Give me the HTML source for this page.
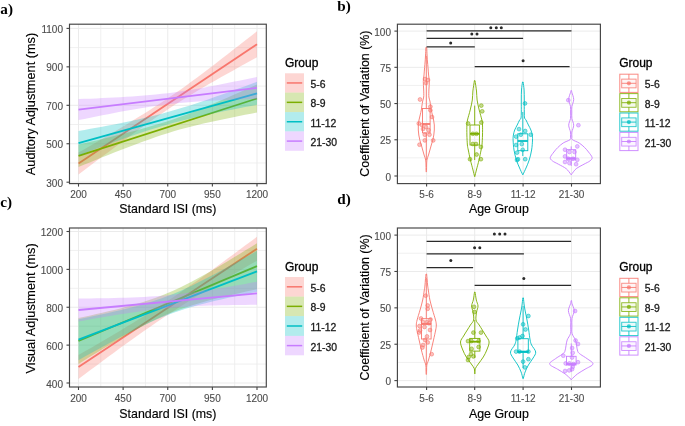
<!DOCTYPE html>
<html><head><meta charset="utf-8"><style>
html,body{margin:0;padding:0;background:#fff;width:685px;height:426px;overflow:hidden}
svg{display:block;font-family:"Liberation Sans",sans-serif;filter:blur(0.45px)}
</style></head><body>
<svg width="685" height="426" viewBox="0 0 685 426">
<rect width="685" height="426" fill="#fff"/>
<text x="0.3" y="13.6" font-size="15.2" font-weight="bold" font-family="Liberation Serif,serif">a)</text>
<text x="337.3" y="11.0" font-size="15.2" font-weight="bold" font-family="Liberation Serif,serif">b)</text>
<text x="0.3" y="206.6" font-size="15.2" font-weight="bold" font-family="Liberation Serif,serif">c)</text>
<text x="337.3" y="204.0" font-size="15.2" font-weight="bold" font-family="Liberation Serif,serif">d)</text>
<rect x="69.5" y="24.2" width="196.8" height="159.4" fill="#fff"/>
<line x1="100.81" y1="24.2" x2="100.81" y2="183.6" stroke="#EEEEEE" stroke-width="0.9"/>
<line x1="145.44" y1="24.2" x2="145.44" y2="183.6" stroke="#EEEEEE" stroke-width="0.9"/>
<line x1="190.06" y1="24.2" x2="190.06" y2="183.6" stroke="#EEEEEE" stroke-width="0.9"/>
<line x1="234.69" y1="24.2" x2="234.69" y2="183.6" stroke="#EEEEEE" stroke-width="0.9"/>
<line x1="69.5" y1="162.98" x2="266.3" y2="162.98" stroke="#EEEEEE" stroke-width="0.9"/>
<line x1="69.5" y1="124.53" x2="266.3" y2="124.53" stroke="#EEEEEE" stroke-width="0.9"/>
<line x1="69.5" y1="86.08" x2="266.3" y2="86.08" stroke="#EEEEEE" stroke-width="0.9"/>
<line x1="69.5" y1="47.62" x2="266.3" y2="47.62" stroke="#EEEEEE" stroke-width="0.9"/>
<line x1="78.50" y1="24.2" x2="78.50" y2="183.6" stroke="#EBEBEB" stroke-width="1"/>
<line x1="123.12" y1="24.2" x2="123.12" y2="183.6" stroke="#EBEBEB" stroke-width="1"/>
<line x1="167.75" y1="24.2" x2="167.75" y2="183.6" stroke="#EBEBEB" stroke-width="1"/>
<line x1="212.38" y1="24.2" x2="212.38" y2="183.6" stroke="#EBEBEB" stroke-width="1"/>
<line x1="257.00" y1="24.2" x2="257.00" y2="183.6" stroke="#EBEBEB" stroke-width="1"/>
<line x1="69.5" y1="182.20" x2="266.3" y2="182.20" stroke="#EBEBEB" stroke-width="1"/>
<line x1="69.5" y1="143.75" x2="266.3" y2="143.75" stroke="#EBEBEB" stroke-width="1"/>
<line x1="69.5" y1="105.30" x2="266.3" y2="105.30" stroke="#EBEBEB" stroke-width="1"/>
<line x1="69.5" y1="66.85" x2="266.3" y2="66.85" stroke="#EBEBEB" stroke-width="1"/>
<line x1="69.5" y1="28.40" x2="266.3" y2="28.40" stroke="#EBEBEB" stroke-width="1"/>
<path d="M78.50,152.60 L84.45,149.16 L90.40,145.71 L96.35,142.24 L102.30,138.76 L108.25,135.26 L114.20,131.74 L120.15,128.20 L126.10,124.63 L132.05,121.02 L138.00,117.37 L143.95,113.68 L149.90,109.93 L155.85,106.12 L161.80,102.24 L167.75,98.30 L173.70,94.27 L179.65,90.13 L185.60,85.89 L191.55,81.57 L197.50,77.17 L203.45,72.71 L209.40,68.21 L215.35,63.66 L221.30,59.08 L227.25,54.48 L233.20,49.85 L239.15,45.21 L245.10,40.55 L251.05,35.88 L257.00,31.20 L257.00,57.20 L251.05,60.48 L245.10,63.77 L239.15,67.07 L233.20,70.39 L227.25,73.72 L221.30,77.08 L215.35,80.46 L209.40,83.87 L203.45,87.33 L197.50,90.83 L191.55,94.39 L185.60,98.03 L179.65,101.75 L173.70,105.57 L167.75,109.50 L161.80,113.52 L155.85,117.60 L149.90,121.75 L143.95,125.96 L138.00,130.23 L132.05,134.54 L126.10,138.89 L120.15,143.28 L114.20,147.70 L108.25,152.14 L102.30,156.60 L96.35,161.08 L90.40,165.57 L84.45,170.08 L78.50,174.60Z" fill="#F8766D" fill-opacity="0.3"/>
<line x1="78.5" y1="163.6" x2="257.0" y2="44.2" stroke="#F8766D" stroke-width="1.8"/>
<path d="M78.50,144.60 L84.45,143.22 L90.40,141.82 L96.35,140.41 L102.30,138.99 L108.25,137.55 L114.20,136.08 L120.15,134.59 L126.10,133.07 L132.05,131.52 L138.00,129.92 L143.95,128.28 L149.90,126.59 L155.85,124.84 L161.80,123.03 L167.75,121.15 L173.70,119.18 L179.65,117.10 L185.60,114.91 L191.55,112.63 L197.50,110.27 L203.45,107.84 L209.40,105.36 L215.35,102.84 L221.30,100.29 L227.25,97.70 L233.20,95.09 L239.15,92.47 L245.10,89.82 L251.05,87.17 L257.00,84.50 L257.00,112.50 L251.05,113.65 L245.10,114.82 L239.15,115.99 L233.20,117.19 L227.25,118.40 L221.30,119.63 L215.35,120.90 L209.40,122.20 L203.45,123.54 L197.50,124.93 L191.55,126.39 L185.60,127.93 L179.65,129.56 L173.70,131.30 L167.75,133.15 L161.80,135.09 L155.85,137.10 L149.90,139.17 L143.95,141.30 L138.00,143.48 L132.05,145.70 L126.10,147.97 L120.15,150.27 L114.20,152.60 L108.25,154.95 L102.30,157.33 L96.35,159.73 L90.40,162.14 L84.45,164.56 L78.50,167.00Z" fill="#7CAE00" fill-opacity="0.3"/>
<line x1="78.5" y1="155.8" x2="257.0" y2="98.5" stroke="#7CAE00" stroke-width="1.8"/>
<path d="M78.50,131.00 L84.45,129.93 L90.40,128.86 L96.35,127.77 L102.30,126.66 L108.25,125.53 L114.20,124.38 L120.15,123.20 L126.10,121.99 L132.05,120.74 L138.00,119.45 L143.95,118.10 L149.90,116.69 L155.85,115.22 L161.80,113.67 L167.75,112.05 L173.70,110.35 L179.65,108.59 L185.60,106.76 L191.55,104.88 L197.50,102.94 L203.45,100.96 L209.40,98.93 L215.35,96.87 L221.30,94.78 L227.25,92.66 L233.20,90.53 L239.15,88.37 L245.10,86.19 L251.05,84.00 L257.00,81.80 L257.00,104.80 L251.05,105.93 L245.10,107.06 L239.15,108.21 L233.20,109.38 L227.25,110.57 L221.30,111.78 L215.35,113.01 L209.40,114.28 L203.45,115.58 L197.50,116.92 L191.55,118.31 L185.60,119.76 L179.65,121.26 L173.70,122.82 L167.75,124.45 L161.80,126.15 L155.85,127.93 L149.90,129.79 L143.95,131.71 L138.00,133.69 L132.05,135.72 L126.10,137.80 L120.15,139.91 L114.20,142.06 L108.25,144.24 L102.30,146.44 L96.35,148.65 L90.40,150.89 L84.45,153.14 L78.50,155.40Z" fill="#00BFC4" fill-opacity="0.3"/>
<line x1="78.5" y1="143.2" x2="257.0" y2="93.3" stroke="#00BFC4" stroke-width="1.8"/>
<path d="M78.50,99.10 L84.45,98.87 L90.40,98.63 L96.35,98.38 L102.30,98.12 L108.25,97.83 L114.20,97.53 L120.15,97.20 L126.10,96.85 L132.05,96.46 L138.00,96.03 L143.95,95.56 L149.90,95.05 L155.85,94.47 L161.80,93.84 L167.75,93.15 L173.70,92.39 L179.65,91.56 L185.60,90.67 L191.55,89.71 L197.50,88.71 L203.45,87.65 L209.40,86.55 L215.35,85.42 L221.30,84.26 L227.25,83.08 L233.20,81.87 L239.15,80.65 L245.10,79.41 L251.05,78.16 L257.00,76.90 L257.00,98.90 L251.05,99.08 L245.10,99.28 L239.15,99.49 L233.20,99.71 L227.25,99.95 L221.30,100.22 L215.35,100.50 L209.40,100.82 L203.45,101.17 L197.50,101.56 L191.55,102.00 L185.60,102.49 L179.65,103.04 L173.70,103.66 L167.75,104.35 L161.80,105.10 L155.85,105.92 L149.90,106.79 L143.95,107.72 L138.00,108.70 L132.05,109.72 L126.10,110.78 L120.15,111.87 L114.20,112.99 L108.25,114.13 L102.30,115.30 L96.35,116.48 L90.40,117.67 L84.45,118.88 L78.50,120.10Z" fill="#C77CFF" fill-opacity="0.3"/>
<line x1="78.5" y1="109.6" x2="257.0" y2="87.9" stroke="#C77CFF" stroke-width="1.8"/>
<rect x="69.5" y="24.2" width="196.8" height="159.4" fill="none" stroke="#444444" stroke-width="1.15"/>
<line x1="78.50" y1="183.6" x2="78.50" y2="186.6" stroke="#444444" stroke-width="1.1"/>
<line x1="123.12" y1="183.6" x2="123.12" y2="186.6" stroke="#444444" stroke-width="1.1"/>
<line x1="167.75" y1="183.6" x2="167.75" y2="186.6" stroke="#444444" stroke-width="1.1"/>
<line x1="212.38" y1="183.6" x2="212.38" y2="186.6" stroke="#444444" stroke-width="1.1"/>
<line x1="257.00" y1="183.6" x2="257.00" y2="186.6" stroke="#444444" stroke-width="1.1"/>
<line x1="66.5" y1="182.20" x2="69.5" y2="182.20" stroke="#444444" stroke-width="1.1"/>
<line x1="66.5" y1="143.75" x2="69.5" y2="143.75" stroke="#444444" stroke-width="1.1"/>
<line x1="66.5" y1="105.30" x2="69.5" y2="105.30" stroke="#444444" stroke-width="1.1"/>
<line x1="66.5" y1="66.85" x2="69.5" y2="66.85" stroke="#444444" stroke-width="1.1"/>
<line x1="66.5" y1="28.40" x2="69.5" y2="28.40" stroke="#444444" stroke-width="1.1"/>
<text x="63.00" y="186.80" font-size="10" text-anchor="end" fill="#4D4D4D" stroke="#4D4D4D" stroke-width="0.12" >300</text>
<text x="63.00" y="148.35" font-size="10" text-anchor="end" fill="#4D4D4D" stroke="#4D4D4D" stroke-width="0.12" >500</text>
<text x="63.00" y="109.90" font-size="10" text-anchor="end" fill="#4D4D4D" stroke="#4D4D4D" stroke-width="0.12" >700</text>
<text x="63.00" y="71.45" font-size="10" text-anchor="end" fill="#4D4D4D" stroke="#4D4D4D" stroke-width="0.12" >900</text>
<text x="63.00" y="33.00" font-size="10" text-anchor="end" fill="#4D4D4D" stroke="#4D4D4D" stroke-width="0.12" >1100</text>
<text x="78.50" y="198.20" font-size="10" text-anchor="middle" fill="#4D4D4D" stroke="#4D4D4D" stroke-width="0.12" >200</text>
<text x="123.12" y="198.20" font-size="10" text-anchor="middle" fill="#4D4D4D" stroke="#4D4D4D" stroke-width="0.12" >450</text>
<text x="167.75" y="198.20" font-size="10" text-anchor="middle" fill="#4D4D4D" stroke="#4D4D4D" stroke-width="0.12" >700</text>
<text x="212.38" y="198.20" font-size="10" text-anchor="middle" fill="#4D4D4D" stroke="#4D4D4D" stroke-width="0.12" >950</text>
<text x="257.00" y="198.20" font-size="10" text-anchor="middle" fill="#4D4D4D" stroke="#4D4D4D" stroke-width="0.12" >1200</text>
<text x="167.90" y="213.00" font-size="12.4" text-anchor="middle" fill="#000" stroke="#000" stroke-width="0.15" >Standard ISI (ms)</text>
<text transform="translate(34.6,104) rotate(-90)" font-size="12.75" text-anchor="middle" fill="#000" stroke="#000" stroke-width="0.15">Auditory Adjustment (ms)</text>
<text x="285.00" y="66.90" font-size="12" text-anchor="start" fill="#000" stroke="#000" stroke-width="0.3" >Group</text>
<rect x="285" y="73.30" width="19" height="19.30" fill="#F8766D" fill-opacity="0.3"/>
<line x1="286.8" y1="82.95" x2="302.2" y2="82.95" stroke="#F8766D" stroke-width="1.5"/>
<text x="310.50" y="87.95" font-size="10.4" text-anchor="start" fill="#1a1a1a" stroke="#1a1a1a" stroke-width="0.3" >5-6</text>
<rect x="285" y="92.60" width="19" height="19.50" fill="#7CAE00" fill-opacity="0.3"/>
<line x1="286.8" y1="102.35" x2="302.2" y2="102.35" stroke="#7CAE00" stroke-width="1.5"/>
<text x="310.50" y="107.35" font-size="10.4" text-anchor="start" fill="#1a1a1a" stroke="#1a1a1a" stroke-width="0.3" >8-9</text>
<rect x="285" y="112.10" width="19" height="19.30" fill="#00BFC4" fill-opacity="0.3"/>
<line x1="286.8" y1="121.75" x2="302.2" y2="121.75" stroke="#00BFC4" stroke-width="1.5"/>
<text x="310.50" y="126.75" font-size="10.4" text-anchor="start" fill="#1a1a1a" stroke="#1a1a1a" stroke-width="0.3" >11-12</text>
<rect x="285" y="131.40" width="19" height="19.40" fill="#C77CFF" fill-opacity="0.3"/>
<line x1="286.8" y1="141.10" x2="302.2" y2="141.10" stroke="#C77CFF" stroke-width="1.5"/>
<text x="310.50" y="146.10" font-size="10.4" text-anchor="start" fill="#1a1a1a" stroke="#1a1a1a" stroke-width="0.3" >21-30</text>
<rect x="69.5" y="228" width="196.8" height="159" fill="#fff"/>
<line x1="100.81" y1="228" x2="100.81" y2="387" stroke="#EEEEEE" stroke-width="0.9"/>
<line x1="145.44" y1="228" x2="145.44" y2="387" stroke="#EEEEEE" stroke-width="0.9"/>
<line x1="190.06" y1="228" x2="190.06" y2="387" stroke="#EEEEEE" stroke-width="0.9"/>
<line x1="234.69" y1="228" x2="234.69" y2="387" stroke="#EEEEEE" stroke-width="0.9"/>
<line x1="69.5" y1="364.06" x2="266.3" y2="364.06" stroke="#EEEEEE" stroke-width="0.9"/>
<line x1="69.5" y1="326.19" x2="266.3" y2="326.19" stroke="#EEEEEE" stroke-width="0.9"/>
<line x1="69.5" y1="288.31" x2="266.3" y2="288.31" stroke="#EEEEEE" stroke-width="0.9"/>
<line x1="69.5" y1="250.44" x2="266.3" y2="250.44" stroke="#EEEEEE" stroke-width="0.9"/>
<line x1="78.50" y1="228" x2="78.50" y2="387" stroke="#EBEBEB" stroke-width="1"/>
<line x1="123.12" y1="228" x2="123.12" y2="387" stroke="#EBEBEB" stroke-width="1"/>
<line x1="167.75" y1="228" x2="167.75" y2="387" stroke="#EBEBEB" stroke-width="1"/>
<line x1="212.38" y1="228" x2="212.38" y2="387" stroke="#EBEBEB" stroke-width="1"/>
<line x1="257.00" y1="228" x2="257.00" y2="387" stroke="#EBEBEB" stroke-width="1"/>
<line x1="69.5" y1="383.00" x2="266.3" y2="383.00" stroke="#EBEBEB" stroke-width="1"/>
<line x1="69.5" y1="345.12" x2="266.3" y2="345.12" stroke="#EBEBEB" stroke-width="1"/>
<line x1="69.5" y1="307.25" x2="266.3" y2="307.25" stroke="#EBEBEB" stroke-width="1"/>
<line x1="69.5" y1="269.38" x2="266.3" y2="269.38" stroke="#EBEBEB" stroke-width="1"/>
<line x1="69.5" y1="231.50" x2="266.3" y2="231.50" stroke="#EBEBEB" stroke-width="1"/>
<path d="M78.50,355.00 L84.45,351.58 L90.40,348.14 L96.35,344.69 L102.30,341.22 L108.25,337.73 L114.20,334.22 L120.15,330.68 L126.10,327.11 L132.05,323.50 L138.00,319.85 L143.95,316.16 L149.90,312.41 L155.85,308.62 L161.80,304.76 L167.75,300.85 L173.70,296.88 L179.65,292.84 L185.60,288.75 L191.55,284.61 L197.50,280.42 L203.45,276.18 L209.40,271.90 L215.35,267.58 L221.30,263.24 L227.25,258.87 L233.20,254.47 L239.15,250.05 L245.10,245.62 L251.05,241.16 L257.00,236.70 L257.00,260.70 L251.05,264.12 L245.10,267.56 L239.15,271.01 L233.20,274.48 L227.25,277.97 L221.30,281.48 L215.35,285.02 L209.40,288.59 L203.45,292.20 L197.50,295.85 L191.55,299.54 L185.60,303.29 L179.65,307.08 L173.70,310.94 L167.75,314.85 L161.80,318.82 L155.85,322.86 L149.90,326.95 L143.95,331.09 L138.00,335.28 L132.05,339.52 L126.10,343.80 L120.15,348.12 L114.20,352.46 L108.25,356.83 L102.30,361.23 L96.35,365.65 L90.40,370.08 L84.45,374.54 L78.50,379.00Z" fill="#F8766D" fill-opacity="0.3"/>
<line x1="78.5" y1="367" x2="257.0" y2="248.7" stroke="#F8766D" stroke-width="1.8"/>
<path d="M78.50,318.00 L84.45,316.71 L90.40,315.40 L96.35,314.07 L102.30,312.71 L108.25,311.32 L114.20,309.88 L120.15,308.40 L126.10,306.86 L132.05,305.25 L138.00,303.55 L143.95,301.74 L149.90,299.81 L155.85,297.74 L161.80,295.51 L167.75,293.10 L173.70,290.52 L179.65,287.76 L185.60,284.85 L191.55,281.79 L197.50,278.61 L203.45,275.33 L209.40,271.95 L215.35,268.51 L221.30,265.00 L227.25,261.45 L233.20,257.86 L239.15,254.23 L245.10,250.58 L251.05,246.90 L257.00,243.20 L257.00,289.20 L251.05,290.49 L245.10,291.80 L239.15,293.13 L233.20,294.49 L227.25,295.88 L221.30,297.32 L215.35,298.80 L209.40,300.34 L203.45,301.95 L197.50,303.65 L191.55,305.46 L185.60,307.39 L179.65,309.46 L173.70,311.69 L167.75,314.10 L161.80,316.68 L155.85,319.44 L149.90,322.35 L143.95,325.41 L138.00,328.59 L132.05,331.87 L126.10,335.25 L120.15,338.69 L114.20,342.20 L108.25,345.75 L102.30,349.34 L96.35,352.97 L90.40,356.62 L84.45,360.30 L78.50,364.00Z" fill="#7CAE00" fill-opacity="0.3"/>
<line x1="78.5" y1="341" x2="257.0" y2="266.2" stroke="#7CAE00" stroke-width="1.8"/>
<path d="M78.50,319.20 L84.45,317.99 L90.40,316.75 L96.35,315.50 L102.30,314.22 L108.25,312.91 L114.20,311.56 L120.15,310.17 L126.10,308.73 L132.05,307.22 L138.00,305.63 L143.95,303.96 L149.90,302.17 L155.85,300.26 L161.80,298.20 L167.75,296.00 L173.70,293.64 L179.65,291.14 L185.60,288.49 L191.55,285.72 L197.50,282.83 L203.45,279.86 L209.40,276.81 L215.35,273.69 L221.30,270.52 L227.25,267.31 L233.20,264.06 L239.15,260.78 L245.10,257.47 L251.05,254.15 L257.00,250.80 L257.00,291.80 L251.05,293.01 L245.10,294.25 L239.15,295.50 L233.20,296.78 L227.25,298.09 L221.30,299.44 L215.35,300.83 L209.40,302.27 L203.45,303.78 L197.50,305.37 L191.55,307.04 L185.60,308.83 L179.65,310.74 L173.70,312.80 L167.75,315.00 L161.80,317.36 L155.85,319.86 L149.90,322.51 L143.95,325.28 L138.00,328.17 L132.05,331.14 L126.10,334.19 L120.15,337.31 L114.20,340.48 L108.25,343.69 L102.30,346.94 L96.35,350.22 L90.40,353.53 L84.45,356.85 L78.50,360.20Z" fill="#00BFC4" fill-opacity="0.3"/>
<line x1="78.5" y1="339.7" x2="257.0" y2="271.3" stroke="#00BFC4" stroke-width="1.8"/>
<path d="M78.50,298.50 L84.45,298.46 L90.40,298.41 L96.35,298.34 L102.30,298.25 L108.25,298.15 L114.20,298.02 L120.15,297.87 L126.10,297.68 L132.05,297.46 L138.00,297.20 L143.95,296.90 L149.90,296.55 L155.85,296.14 L161.80,295.68 L167.75,295.15 L173.70,294.56 L179.65,293.91 L185.60,293.21 L191.55,292.45 L197.50,291.64 L203.45,290.78 L209.40,289.89 L215.35,288.96 L221.30,288.00 L227.25,287.01 L233.20,286.01 L239.15,284.98 L245.10,283.93 L251.05,282.87 L257.00,281.80 L257.00,304.80 L251.05,304.84 L245.10,304.89 L239.15,304.96 L233.20,305.05 L227.25,305.15 L221.30,305.28 L215.35,305.43 L209.40,305.62 L203.45,305.84 L197.50,306.10 L191.55,306.40 L185.60,306.75 L179.65,307.16 L173.70,307.62 L167.75,308.15 L161.80,308.74 L155.85,309.39 L149.90,310.09 L143.95,310.85 L138.00,311.66 L132.05,312.52 L126.10,313.41 L120.15,314.34 L114.20,315.30 L108.25,316.29 L102.30,317.29 L96.35,318.32 L90.40,319.37 L84.45,320.43 L78.50,321.50Z" fill="#C77CFF" fill-opacity="0.3"/>
<line x1="78.5" y1="310" x2="257.0" y2="293.3" stroke="#C77CFF" stroke-width="1.8"/>
<rect x="69.5" y="228" width="196.8" height="159" fill="none" stroke="#444444" stroke-width="1.15"/>
<line x1="78.50" y1="387" x2="78.50" y2="390" stroke="#444444" stroke-width="1.1"/>
<line x1="123.12" y1="387" x2="123.12" y2="390" stroke="#444444" stroke-width="1.1"/>
<line x1="167.75" y1="387" x2="167.75" y2="390" stroke="#444444" stroke-width="1.1"/>
<line x1="212.38" y1="387" x2="212.38" y2="390" stroke="#444444" stroke-width="1.1"/>
<line x1="257.00" y1="387" x2="257.00" y2="390" stroke="#444444" stroke-width="1.1"/>
<line x1="66.5" y1="383.00" x2="69.5" y2="383.00" stroke="#444444" stroke-width="1.1"/>
<line x1="66.5" y1="345.12" x2="69.5" y2="345.12" stroke="#444444" stroke-width="1.1"/>
<line x1="66.5" y1="307.25" x2="69.5" y2="307.25" stroke="#444444" stroke-width="1.1"/>
<line x1="66.5" y1="269.38" x2="69.5" y2="269.38" stroke="#444444" stroke-width="1.1"/>
<line x1="66.5" y1="231.50" x2="69.5" y2="231.50" stroke="#444444" stroke-width="1.1"/>
<text x="63.00" y="387.60" font-size="10" text-anchor="end" fill="#4D4D4D" stroke="#4D4D4D" stroke-width="0.12" >400</text>
<text x="63.00" y="349.73" font-size="10" text-anchor="end" fill="#4D4D4D" stroke="#4D4D4D" stroke-width="0.12" >600</text>
<text x="63.00" y="311.85" font-size="10" text-anchor="end" fill="#4D4D4D" stroke="#4D4D4D" stroke-width="0.12" >800</text>
<text x="63.00" y="273.98" font-size="10" text-anchor="end" fill="#4D4D4D" stroke="#4D4D4D" stroke-width="0.12" >1000</text>
<text x="63.00" y="236.10" font-size="10" text-anchor="end" fill="#4D4D4D" stroke="#4D4D4D" stroke-width="0.12" >1200</text>
<text x="78.50" y="402.00" font-size="10" text-anchor="middle" fill="#4D4D4D" stroke="#4D4D4D" stroke-width="0.12" >200</text>
<text x="123.12" y="402.00" font-size="10" text-anchor="middle" fill="#4D4D4D" stroke="#4D4D4D" stroke-width="0.12" >450</text>
<text x="167.75" y="402.00" font-size="10" text-anchor="middle" fill="#4D4D4D" stroke="#4D4D4D" stroke-width="0.12" >700</text>
<text x="212.38" y="402.00" font-size="10" text-anchor="middle" fill="#4D4D4D" stroke="#4D4D4D" stroke-width="0.12" >950</text>
<text x="257.00" y="402.00" font-size="10" text-anchor="middle" fill="#4D4D4D" stroke="#4D4D4D" stroke-width="0.12" >1200</text>
<text x="167.90" y="417.70" font-size="12.4" text-anchor="middle" fill="#000" stroke="#000" stroke-width="0.15" >Standard ISI (ms)</text>
<text transform="translate(34.6,308.4) rotate(-90)" font-size="12.75" text-anchor="middle" fill="#000" stroke="#000" stroke-width="0.15">Visual Adjustment (ms)</text>
<text x="285.00" y="270.50" font-size="12" text-anchor="start" fill="#000" stroke="#000" stroke-width="0.3" >Group</text>
<rect x="285" y="277.00" width="19" height="19.60" fill="#F8766D" fill-opacity="0.3"/>
<line x1="286.8" y1="286.80" x2="302.2" y2="286.80" stroke="#F8766D" stroke-width="1.5"/>
<text x="310.50" y="291.80" font-size="10.4" text-anchor="start" fill="#1a1a1a" stroke="#1a1a1a" stroke-width="0.3" >5-6</text>
<rect x="285" y="296.60" width="19" height="19.50" fill="#7CAE00" fill-opacity="0.3"/>
<line x1="286.8" y1="306.35" x2="302.2" y2="306.35" stroke="#7CAE00" stroke-width="1.5"/>
<text x="310.50" y="311.35" font-size="10.4" text-anchor="start" fill="#1a1a1a" stroke="#1a1a1a" stroke-width="0.3" >8-9</text>
<rect x="285" y="316.10" width="19" height="19.80" fill="#00BFC4" fill-opacity="0.3"/>
<line x1="286.8" y1="326.00" x2="302.2" y2="326.00" stroke="#00BFC4" stroke-width="1.5"/>
<text x="310.50" y="331.00" font-size="10.4" text-anchor="start" fill="#1a1a1a" stroke="#1a1a1a" stroke-width="0.3" >11-12</text>
<rect x="285" y="335.90" width="19" height="19.40" fill="#C77CFF" fill-opacity="0.3"/>
<line x1="286.8" y1="345.60" x2="302.2" y2="345.60" stroke="#C77CFF" stroke-width="1.5"/>
<text x="310.50" y="350.60" font-size="10.4" text-anchor="start" fill="#1a1a1a" stroke="#1a1a1a" stroke-width="0.3" >21-30</text>
<rect x="397.4" y="24.2" width="203.0" height="159.4" fill="#fff"/>
<line x1="397.4" y1="157.89" x2="600.4" y2="157.89" stroke="#EEEEEE" stroke-width="0.9"/>
<line x1="397.4" y1="121.66" x2="600.4" y2="121.66" stroke="#EEEEEE" stroke-width="0.9"/>
<line x1="397.4" y1="85.44" x2="600.4" y2="85.44" stroke="#EEEEEE" stroke-width="0.9"/>
<line x1="397.4" y1="49.21" x2="600.4" y2="49.21" stroke="#EEEEEE" stroke-width="0.9"/>
<line x1="426.60" y1="24.2" x2="426.60" y2="183.6" stroke="#EBEBEB" stroke-width="1"/>
<line x1="474.70" y1="24.2" x2="474.70" y2="183.6" stroke="#EBEBEB" stroke-width="1"/>
<line x1="523.10" y1="24.2" x2="523.10" y2="183.6" stroke="#EBEBEB" stroke-width="1"/>
<line x1="571.50" y1="24.2" x2="571.50" y2="183.6" stroke="#EBEBEB" stroke-width="1"/>
<line x1="397.4" y1="176.00" x2="600.4" y2="176.00" stroke="#EBEBEB" stroke-width="1"/>
<line x1="397.4" y1="139.78" x2="600.4" y2="139.78" stroke="#EBEBEB" stroke-width="1"/>
<line x1="397.4" y1="103.55" x2="600.4" y2="103.55" stroke="#EBEBEB" stroke-width="1"/>
<line x1="397.4" y1="67.32" x2="600.4" y2="67.32" stroke="#EBEBEB" stroke-width="1"/>
<line x1="397.4" y1="31.10" x2="600.4" y2="31.10" stroke="#EBEBEB" stroke-width="1"/>
<path d="M426.70,47.40 C426.77,48.83 426.97,53.57 427.10,56.00 C427.23,58.43 427.35,60.10 427.50,62.00 C427.65,63.90 427.82,65.23 428.00,67.40 C428.18,69.57 428.38,72.65 428.60,75.00 C428.82,77.35 429.25,79.00 429.30,81.50 C429.35,84.00 428.97,87.42 428.90,90.00 C428.83,92.58 428.73,95.17 428.90,97.00 C429.07,98.83 429.60,99.50 429.90,101.00 C430.20,102.50 430.47,104.50 430.70,106.00 C430.93,107.50 431.02,108.50 431.30,110.00 C431.58,111.50 432.02,113.33 432.40,115.00 C432.78,116.67 433.28,118.33 433.60,120.00 C433.92,121.67 434.18,123.33 434.30,125.00 C434.42,126.67 434.38,128.33 434.30,130.00 C434.22,131.67 434.05,133.33 433.80,135.00 C433.55,136.67 433.22,138.33 432.80,140.00 C432.38,141.67 431.78,143.33 431.30,145.00 C430.82,146.67 430.37,148.33 429.90,150.00 C429.43,151.67 429.00,153.33 428.50,155.00 C428.00,156.67 427.22,158.17 426.90,160.00 C426.58,161.83 426.67,164.10 426.60,166.00 C426.53,167.90 426.58,170.50 426.50,171.40 C426.42,172.30 426.18,172.30 426.10,171.40 C426.02,170.50 426.07,167.90 426.00,166.00 C425.93,164.10 426.02,161.83 425.70,160.00 C425.38,158.17 424.60,156.67 424.10,155.00 C423.60,153.33 423.17,151.67 422.70,150.00 C422.23,148.33 421.78,146.67 421.30,145.00 C420.82,143.33 420.22,141.67 419.80,140.00 C419.38,138.33 419.05,136.67 418.80,135.00 C418.55,133.33 418.38,131.67 418.30,130.00 C418.22,128.33 418.18,126.67 418.30,125.00 C418.42,123.33 418.68,121.67 419.00,120.00 C419.32,118.33 419.82,116.67 420.20,115.00 C420.58,113.33 421.02,111.50 421.30,110.00 C421.58,108.50 421.67,107.50 421.90,106.00 C422.13,104.50 422.40,102.50 422.70,101.00 C423.00,99.50 423.53,98.83 423.70,97.00 C423.87,95.17 423.77,92.58 423.70,90.00 C423.63,87.42 423.25,84.00 423.30,81.50 C423.35,79.00 423.78,77.35 424.00,75.00 C424.22,72.65 424.42,69.57 424.60,67.40 C424.78,65.23 424.95,63.90 425.10,62.00 C425.25,60.10 425.37,58.43 425.50,56.00 C425.63,53.57 425.83,48.83 425.90,47.40Z" fill="none" stroke="#F8766D" stroke-width="0.9"/>
<line x1="426.3" y1="56" x2="426.3" y2="108.5" stroke="#F8766D" stroke-width="0.9"/>
<line x1="426.3" y1="132.9" x2="426.3" y2="160" stroke="#F8766D" stroke-width="0.9"/>
<rect x="422.5" y="108.5" width="7.6" height="24.400000000000006" fill="none" stroke="#F8766D" stroke-width="0.9"/>
<line x1="422.5" y1="124" x2="430.1" y2="124" stroke="#F8766D" stroke-width="1.8"/>
<circle cx="425.0" cy="79.0" r="1.9" fill="#F8766D" fill-opacity="0.45" stroke="#F8766D" stroke-opacity="0.9" stroke-width="0.6"/>
<circle cx="428.0" cy="80.0" r="1.9" fill="#F8766D" fill-opacity="0.45" stroke="#F8766D" stroke-opacity="0.9" stroke-width="0.6"/>
<circle cx="426.0" cy="83.0" r="1.9" fill="#F8766D" fill-opacity="0.45" stroke="#F8766D" stroke-opacity="0.9" stroke-width="0.6"/>
<circle cx="420.0" cy="99.5" r="1.9" fill="#F8766D" fill-opacity="0.45" stroke="#F8766D" stroke-opacity="0.9" stroke-width="0.6"/>
<circle cx="430.4" cy="106.6" r="1.9" fill="#F8766D" fill-opacity="0.45" stroke="#F8766D" stroke-opacity="0.9" stroke-width="0.6"/>
<circle cx="430.4" cy="110.3" r="1.9" fill="#F8766D" fill-opacity="0.45" stroke="#F8766D" stroke-opacity="0.9" stroke-width="0.6"/>
<circle cx="432.0" cy="117.0" r="1.9" fill="#F8766D" fill-opacity="0.45" stroke="#F8766D" stroke-opacity="0.9" stroke-width="0.6"/>
<circle cx="418.8" cy="123.5" r="1.9" fill="#F8766D" fill-opacity="0.45" stroke="#F8766D" stroke-opacity="0.9" stroke-width="0.6"/>
<circle cx="423.0" cy="129.0" r="1.9" fill="#F8766D" fill-opacity="0.45" stroke="#F8766D" stroke-opacity="0.9" stroke-width="0.6"/>
<circle cx="428.5" cy="130.0" r="1.9" fill="#F8766D" fill-opacity="0.45" stroke="#F8766D" stroke-opacity="0.9" stroke-width="0.6"/>
<circle cx="424.8" cy="134.7" r="1.9" fill="#F8766D" fill-opacity="0.45" stroke="#F8766D" stroke-opacity="0.9" stroke-width="0.6"/>
<circle cx="429.5" cy="134.7" r="1.9" fill="#F8766D" fill-opacity="0.45" stroke="#F8766D" stroke-opacity="0.9" stroke-width="0.6"/>
<circle cx="433.2" cy="140.4" r="1.9" fill="#F8766D" fill-opacity="0.45" stroke="#F8766D" stroke-opacity="0.9" stroke-width="0.6"/>
<circle cx="424.8" cy="140.4" r="1.9" fill="#F8766D" fill-opacity="0.45" stroke="#F8766D" stroke-opacity="0.9" stroke-width="0.6"/>
<circle cx="419.5" cy="144.7" r="1.9" fill="#F8766D" fill-opacity="0.45" stroke="#F8766D" stroke-opacity="0.9" stroke-width="0.6"/>
<circle cx="426.0" cy="127.0" r="1.9" fill="#F8766D" fill-opacity="0.45" stroke="#F8766D" stroke-opacity="0.9" stroke-width="0.6"/>
<circle cx="422.0" cy="125.0" r="1.9" fill="#F8766D" fill-opacity="0.45" stroke="#F8766D" stroke-opacity="0.9" stroke-width="0.6"/>
<path d="M475.00,80.60 C475.25,82.33 476.15,87.77 476.50,91.00 C476.85,94.23 476.65,96.83 477.10,100.00 C477.55,103.17 478.40,106.67 479.20,110.00 C480.00,113.33 481.35,117.50 481.90,120.00 C482.45,122.50 482.40,122.50 482.50,125.00 C482.60,127.50 482.58,131.67 482.50,135.00 C482.42,138.33 482.23,142.50 482.00,145.00 C481.77,147.50 481.60,147.50 481.10,150.00 C480.60,152.50 479.78,156.67 479.00,160.00 C478.22,163.33 477.08,167.33 476.40,170.00 C475.72,172.67 475.22,175.00 474.90,176.00 C474.58,177.00 474.82,177.00 474.50,176.00 C474.18,175.00 473.68,172.67 473.00,170.00 C472.32,167.33 471.18,163.33 470.40,160.00 C469.62,156.67 468.80,152.50 468.30,150.00 C467.80,147.50 467.63,147.50 467.40,145.00 C467.17,142.50 466.98,138.33 466.90,135.00 C466.82,131.67 466.80,127.50 466.90,125.00 C467.00,122.50 466.95,122.50 467.50,120.00 C468.05,117.50 469.40,113.33 470.20,110.00 C471.00,106.67 471.85,103.17 472.30,100.00 C472.75,96.83 472.55,94.23 472.90,91.00 C473.25,87.77 474.15,82.33 474.40,80.60Z" fill="none" stroke="#7CAE00" stroke-width="0.9"/>
<line x1="474.7" y1="105.6" x2="474.7" y2="125" stroke="#7CAE00" stroke-width="0.9"/>
<line x1="474.7" y1="145" x2="474.7" y2="160" stroke="#7CAE00" stroke-width="0.9"/>
<rect x="470.0" y="125" width="9.4" height="20" fill="none" stroke="#7CAE00" stroke-width="0.9"/>
<line x1="470.0" y1="133.8" x2="479.4" y2="133.8" stroke="#7CAE00" stroke-width="1.8"/>
<circle cx="481.3" cy="105.6" r="1.9" fill="#7CAE00" fill-opacity="0.45" stroke="#7CAE00" stroke-opacity="0.9" stroke-width="0.6"/>
<circle cx="482.2" cy="111.3" r="1.9" fill="#7CAE00" fill-opacity="0.45" stroke="#7CAE00" stroke-opacity="0.9" stroke-width="0.6"/>
<circle cx="468.1" cy="123.5" r="1.9" fill="#7CAE00" fill-opacity="0.45" stroke="#7CAE00" stroke-opacity="0.9" stroke-width="0.6"/>
<circle cx="481.3" cy="122.5" r="1.9" fill="#7CAE00" fill-opacity="0.45" stroke="#7CAE00" stroke-opacity="0.9" stroke-width="0.6"/>
<circle cx="472.8" cy="133.8" r="1.9" fill="#7CAE00" fill-opacity="0.45" stroke="#7CAE00" stroke-opacity="0.9" stroke-width="0.6"/>
<circle cx="476.5" cy="133.8" r="1.9" fill="#7CAE00" fill-opacity="0.45" stroke="#7CAE00" stroke-opacity="0.9" stroke-width="0.6"/>
<circle cx="472.8" cy="144.0" r="1.9" fill="#7CAE00" fill-opacity="0.45" stroke="#7CAE00" stroke-opacity="0.9" stroke-width="0.6"/>
<circle cx="476.0" cy="144.0" r="1.9" fill="#7CAE00" fill-opacity="0.45" stroke="#7CAE00" stroke-opacity="0.9" stroke-width="0.6"/>
<circle cx="476.6" cy="154.5" r="1.9" fill="#7CAE00" fill-opacity="0.45" stroke="#7CAE00" stroke-opacity="0.9" stroke-width="0.6"/>
<circle cx="470.0" cy="159.2" r="1.9" fill="#7CAE00" fill-opacity="0.45" stroke="#7CAE00" stroke-opacity="0.9" stroke-width="0.6"/>
<circle cx="480.9" cy="159.2" r="1.9" fill="#7CAE00" fill-opacity="0.45" stroke="#7CAE00" stroke-opacity="0.9" stroke-width="0.6"/>
<circle cx="480.9" cy="147.0" r="1.9" fill="#7CAE00" fill-opacity="0.45" stroke="#7CAE00" stroke-opacity="0.9" stroke-width="0.6"/>
<path d="M523.10,82.00 C523.27,83.33 523.90,87.00 524.10,90.00 C524.30,93.00 524.27,96.33 524.30,100.00 C524.33,103.67 524.25,109.00 524.30,112.00 C524.35,115.00 524.32,116.67 524.60,118.00 C524.88,119.33 525.37,118.83 526.00,120.00 C526.63,121.17 527.58,123.33 528.40,125.00 C529.22,126.67 530.27,128.33 530.90,130.00 C531.53,131.67 531.93,133.33 532.20,135.00 C532.47,136.67 532.60,137.50 532.50,140.00 C532.40,142.50 532.15,146.67 531.60,150.00 C531.05,153.33 530.13,157.00 529.20,160.00 C528.27,163.00 527.02,165.63 526.00,168.00 C524.98,170.37 523.68,173.17 523.10,174.20 C522.52,175.23 523.08,175.23 522.50,174.20 C521.92,173.17 520.62,170.37 519.60,168.00 C518.58,165.63 517.33,163.00 516.40,160.00 C515.47,157.00 514.55,153.33 514.00,150.00 C513.45,146.67 513.20,142.50 513.10,140.00 C513.00,137.50 513.13,136.67 513.40,135.00 C513.67,133.33 514.07,131.67 514.70,130.00 C515.33,128.33 516.38,126.67 517.20,125.00 C518.02,123.33 518.97,121.17 519.60,120.00 C520.23,118.83 520.72,119.33 521.00,118.00 C521.28,116.67 521.25,115.00 521.30,112.00 C521.35,109.00 521.27,103.67 521.30,100.00 C521.33,96.33 521.30,93.00 521.50,90.00 C521.70,87.00 522.33,83.33 522.50,82.00Z" fill="none" stroke="#00BFC4" stroke-width="0.9"/>
<line x1="522.8" y1="112" x2="522.8" y2="133.8" stroke="#00BFC4" stroke-width="0.9"/>
<line x1="522.8" y1="150.7" x2="522.8" y2="156" stroke="#00BFC4" stroke-width="0.9"/>
<rect x="517.8" y="133.8" width="10.0" height="16.899999999999977" fill="none" stroke="#00BFC4" stroke-width="0.9"/>
<line x1="517.8" y1="141" x2="527.8" y2="141" stroke="#00BFC4" stroke-width="1.8"/>
<circle cx="525.0" cy="103.4" r="1.9" fill="#00BFC4" fill-opacity="0.45" stroke="#00BFC4" stroke-opacity="0.9" stroke-width="0.6"/>
<circle cx="519.0" cy="129.1" r="1.9" fill="#00BFC4" fill-opacity="0.45" stroke="#00BFC4" stroke-opacity="0.9" stroke-width="0.6"/>
<circle cx="525.2" cy="131.0" r="1.9" fill="#00BFC4" fill-opacity="0.45" stroke="#00BFC4" stroke-opacity="0.9" stroke-width="0.6"/>
<circle cx="530.8" cy="134.7" r="1.9" fill="#00BFC4" fill-opacity="0.45" stroke="#00BFC4" stroke-opacity="0.9" stroke-width="0.6"/>
<circle cx="516.1" cy="136.6" r="1.9" fill="#00BFC4" fill-opacity="0.45" stroke="#00BFC4" stroke-opacity="0.9" stroke-width="0.6"/>
<circle cx="520.8" cy="134.7" r="1.9" fill="#00BFC4" fill-opacity="0.45" stroke="#00BFC4" stroke-opacity="0.9" stroke-width="0.6"/>
<circle cx="521.8" cy="144.1" r="1.9" fill="#00BFC4" fill-opacity="0.45" stroke="#00BFC4" stroke-opacity="0.9" stroke-width="0.6"/>
<circle cx="516.1" cy="145.0" r="1.9" fill="#00BFC4" fill-opacity="0.45" stroke="#00BFC4" stroke-opacity="0.9" stroke-width="0.6"/>
<circle cx="522.7" cy="149.8" r="1.9" fill="#00BFC4" fill-opacity="0.45" stroke="#00BFC4" stroke-opacity="0.9" stroke-width="0.6"/>
<circle cx="517.1" cy="152.6" r="1.9" fill="#00BFC4" fill-opacity="0.45" stroke="#00BFC4" stroke-opacity="0.9" stroke-width="0.6"/>
<circle cx="518.0" cy="159.2" r="1.9" fill="#00BFC4" fill-opacity="0.45" stroke="#00BFC4" stroke-opacity="0.9" stroke-width="0.6"/>
<circle cx="525.2" cy="159.2" r="1.9" fill="#00BFC4" fill-opacity="0.45" stroke="#00BFC4" stroke-opacity="0.9" stroke-width="0.6"/>
<circle cx="517.0" cy="160.0" r="1.9" fill="#00BFC4" fill-opacity="0.45" stroke="#00BFC4" stroke-opacity="0.9" stroke-width="0.6"/>
<path d="M571.50,90.60 C571.57,90.92 571.53,91.02 571.90,92.50 C572.27,93.98 573.70,97.17 573.70,99.50 C573.70,101.83 572.22,104.42 571.90,106.50 C571.58,108.58 571.80,110.00 571.80,112.00 C571.80,114.00 571.58,116.30 571.90,118.50 C572.22,120.70 573.70,122.95 573.70,125.20 C573.70,127.45 572.20,130.03 571.90,132.00 C571.60,133.97 571.82,135.72 571.90,137.00 C571.98,138.28 571.18,138.70 572.40,139.70 C573.62,140.70 577.17,141.70 579.20,143.00 C581.23,144.30 583.05,146.00 584.60,147.50 C586.15,149.00 587.25,150.33 588.50,152.00 C589.75,153.67 591.86,156.02 592.10,157.50 C592.34,158.98 591.30,159.78 589.95,160.90 C588.60,162.02 586.29,162.90 584.00,164.20 C581.71,165.50 578.28,167.02 576.20,168.70 C574.12,170.38 572.38,173.37 571.50,174.30 C570.62,175.23 571.78,175.23 570.90,174.30 C570.02,173.37 568.28,170.38 566.20,168.70 C564.12,167.02 560.69,165.50 558.40,164.20 C556.11,162.90 553.80,162.02 552.45,160.90 C551.10,159.78 550.06,158.98 550.30,157.50 C550.54,156.02 552.65,153.67 553.90,152.00 C555.15,150.33 556.25,149.00 557.80,147.50 C559.35,146.00 561.17,144.30 563.20,143.00 C565.23,141.70 568.78,140.70 570.00,139.70 C571.22,138.70 570.42,138.28 570.50,137.00 C570.58,135.72 570.80,133.97 570.50,132.00 C570.20,130.03 568.70,127.45 568.70,125.20 C568.70,122.95 570.18,120.70 570.50,118.50 C570.82,116.30 570.60,114.00 570.60,112.00 C570.60,110.00 570.82,108.58 570.50,106.50 C570.18,104.42 568.70,101.83 568.70,99.50 C568.70,97.17 570.13,93.98 570.50,92.50 C570.87,91.02 570.83,90.92 570.90,90.60Z" fill="none" stroke="#C77CFF" stroke-width="0.9"/>
<line x1="571.2" y1="146.4" x2="571.2" y2="149.7" stroke="#C77CFF" stroke-width="0.9"/>
<line x1="571.2" y1="159.8" x2="571.2" y2="166" stroke="#C77CFF" stroke-width="0.9"/>
<rect x="566.7" y="149.7" width="9.0" height="10.100000000000023" fill="none" stroke="#C77CFF" stroke-width="0.9"/>
<line x1="566.7" y1="158.2" x2="575.7" y2="158.2" stroke="#C77CFF" stroke-width="1.8"/>
<circle cx="568.3" cy="100.2" r="1.9" fill="#C77CFF" fill-opacity="0.45" stroke="#C77CFF" stroke-opacity="0.9" stroke-width="0.6"/>
<circle cx="578.4" cy="125.2" r="1.9" fill="#C77CFF" fill-opacity="0.45" stroke="#C77CFF" stroke-opacity="0.9" stroke-width="0.6"/>
<circle cx="565.0" cy="149.7" r="1.9" fill="#C77CFF" fill-opacity="0.45" stroke="#C77CFF" stroke-opacity="0.9" stroke-width="0.6"/>
<circle cx="577.3" cy="146.4" r="1.9" fill="#C77CFF" fill-opacity="0.45" stroke="#C77CFF" stroke-opacity="0.9" stroke-width="0.6"/>
<circle cx="569.4" cy="152.0" r="1.9" fill="#C77CFF" fill-opacity="0.45" stroke="#C77CFF" stroke-opacity="0.9" stroke-width="0.6"/>
<circle cx="574.5" cy="152.0" r="1.9" fill="#C77CFF" fill-opacity="0.45" stroke="#C77CFF" stroke-opacity="0.9" stroke-width="0.6"/>
<circle cx="565.0" cy="156.4" r="1.9" fill="#C77CFF" fill-opacity="0.45" stroke="#C77CFF" stroke-opacity="0.9" stroke-width="0.6"/>
<circle cx="568.3" cy="158.7" r="1.9" fill="#C77CFF" fill-opacity="0.45" stroke="#C77CFF" stroke-opacity="0.9" stroke-width="0.6"/>
<circle cx="573.0" cy="158.7" r="1.9" fill="#C77CFF" fill-opacity="0.45" stroke="#C77CFF" stroke-opacity="0.9" stroke-width="0.6"/>
<circle cx="577.3" cy="159.8" r="1.9" fill="#C77CFF" fill-opacity="0.45" stroke="#C77CFF" stroke-opacity="0.9" stroke-width="0.6"/>
<circle cx="565.0" cy="162.0" r="1.9" fill="#C77CFF" fill-opacity="0.45" stroke="#C77CFF" stroke-opacity="0.9" stroke-width="0.6"/>
<circle cx="569.4" cy="163.1" r="1.9" fill="#C77CFF" fill-opacity="0.45" stroke="#C77CFF" stroke-opacity="0.9" stroke-width="0.6"/>
<circle cx="576.1" cy="164.2" r="1.9" fill="#C77CFF" fill-opacity="0.45" stroke="#C77CFF" stroke-opacity="0.9" stroke-width="0.6"/>
<line x1="426.6" y1="30.8" x2="571.5" y2="30.8" stroke="#2a2a2a" stroke-width="1.2"/>
<circle cx="490.8" cy="27.8" r="1.5" fill="#2a2a2a"/>
<circle cx="496.3" cy="27.8" r="1.5" fill="#2a2a2a"/>
<circle cx="501.3" cy="27.8" r="1.5" fill="#2a2a2a"/>
<line x1="426.6" y1="38.4" x2="523.1" y2="38.4" stroke="#2a2a2a" stroke-width="1.2"/>
<circle cx="471.8" cy="33.9" r="1.5" fill="#2a2a2a"/>
<circle cx="477.0" cy="33.9" r="1.5" fill="#2a2a2a"/>
<line x1="426.6" y1="46.9" x2="474.8" y2="46.9" stroke="#2a2a2a" stroke-width="1.2"/>
<circle cx="450.7" cy="43.0" r="1.5" fill="#2a2a2a"/>
<line x1="474.7" y1="66.7" x2="569.6" y2="66.7" stroke="#2a2a2a" stroke-width="1.2"/>
<circle cx="523.1" cy="60.8" r="1.5" fill="#2a2a2a"/>
<rect x="397.4" y="24.2" width="203.0" height="159.4" fill="none" stroke="#444444" stroke-width="1.15"/>
<line x1="426.60" y1="183.6" x2="426.60" y2="186.6" stroke="#444444" stroke-width="1.1"/>
<line x1="474.70" y1="183.6" x2="474.70" y2="186.6" stroke="#444444" stroke-width="1.1"/>
<line x1="523.10" y1="183.6" x2="523.10" y2="186.6" stroke="#444444" stroke-width="1.1"/>
<line x1="571.50" y1="183.6" x2="571.50" y2="186.6" stroke="#444444" stroke-width="1.1"/>
<line x1="394.4" y1="176.00" x2="397.4" y2="176.00" stroke="#444444" stroke-width="1.1"/>
<line x1="394.4" y1="139.78" x2="397.4" y2="139.78" stroke="#444444" stroke-width="1.1"/>
<line x1="394.4" y1="103.55" x2="397.4" y2="103.55" stroke="#444444" stroke-width="1.1"/>
<line x1="394.4" y1="67.32" x2="397.4" y2="67.32" stroke="#444444" stroke-width="1.1"/>
<line x1="394.4" y1="31.10" x2="397.4" y2="31.10" stroke="#444444" stroke-width="1.1"/>
<text x="391.00" y="180.60" font-size="10" text-anchor="end" fill="#4D4D4D" stroke="#4D4D4D" stroke-width="0.12" >0</text>
<text x="391.00" y="144.38" font-size="10" text-anchor="end" fill="#4D4D4D" stroke="#4D4D4D" stroke-width="0.12" >25</text>
<text x="391.00" y="108.15" font-size="10" text-anchor="end" fill="#4D4D4D" stroke="#4D4D4D" stroke-width="0.12" >50</text>
<text x="391.00" y="71.92" font-size="10" text-anchor="end" fill="#4D4D4D" stroke="#4D4D4D" stroke-width="0.12" >75</text>
<text x="391.00" y="35.70" font-size="10" text-anchor="end" fill="#4D4D4D" stroke="#4D4D4D" stroke-width="0.12" >100</text>
<text x="426.60" y="198.20" font-size="10" text-anchor="middle" fill="#4D4D4D" stroke="#4D4D4D" stroke-width="0.12" >5-6</text>
<text x="474.70" y="198.20" font-size="10" text-anchor="middle" fill="#4D4D4D" stroke="#4D4D4D" stroke-width="0.12" >8-9</text>
<text x="523.10" y="198.20" font-size="10" text-anchor="middle" fill="#4D4D4D" stroke="#4D4D4D" stroke-width="0.12" >11-12</text>
<text x="571.50" y="198.20" font-size="10" text-anchor="middle" fill="#4D4D4D" stroke="#4D4D4D" stroke-width="0.12" >21-30</text>
<text x="498.90" y="213.00" font-size="12.4" text-anchor="middle" fill="#000" stroke="#000" stroke-width="0.15" >Age Group</text>
<text transform="translate(368.8,103.7) rotate(-90)" font-size="12.4" text-anchor="middle" fill="#000" stroke="#000" stroke-width="0.15">Coefficient of Variation (%)</text>
<text x="619.20" y="66.90" font-size="12" text-anchor="start" fill="#000" stroke="#000" stroke-width="0.3" >Group</text>
<rect x="619.80" y="74.20" width="18.2" height="18.20" stroke="#F8766D" stroke-width="1.0" stroke-opacity="0.85" fill="none"/>
<rect x="621.70" y="79.11" width="14.40" height="8.74" fill="#F8766D" fill-opacity="0.08" stroke="#F8766D" stroke-width="0.9" stroke-opacity="0.85"/>
<line x1="628.90" y1="74.20" x2="628.90" y2="79.11" stroke="#F8766D" stroke-width="1.0" stroke-opacity="0.85" fill="none"/>
<line x1="628.90" y1="87.85" x2="628.90" y2="92.40" stroke="#F8766D" stroke-width="1.0" stroke-opacity="0.85" fill="none"/>
<line x1="621.70" y1="83.30" x2="636.10" y2="83.30" stroke="#F8766D" stroke-width="1.0" stroke-opacity="0.85" fill="none"/>
<circle cx="628.90" cy="83.30" r="2.1" fill="#F8766D" fill-opacity="0.75"/>
<text x="644.70" y="88.30" font-size="10.4" text-anchor="start" fill="#1a1a1a" stroke="#1a1a1a" stroke-width="0.3" >5-6</text>
<rect x="619.80" y="93.60" width="18.2" height="18.20" stroke="#7CAE00" stroke-width="1.0" stroke-opacity="0.85" fill="none"/>
<rect x="621.70" y="98.51" width="14.40" height="8.74" fill="#7CAE00" fill-opacity="0.08" stroke="#7CAE00" stroke-width="0.9" stroke-opacity="0.85"/>
<line x1="628.90" y1="93.60" x2="628.90" y2="98.51" stroke="#7CAE00" stroke-width="1.0" stroke-opacity="0.85" fill="none"/>
<line x1="628.90" y1="107.25" x2="628.90" y2="111.80" stroke="#7CAE00" stroke-width="1.0" stroke-opacity="0.85" fill="none"/>
<line x1="621.70" y1="102.70" x2="636.10" y2="102.70" stroke="#7CAE00" stroke-width="1.0" stroke-opacity="0.85" fill="none"/>
<circle cx="628.90" cy="102.70" r="2.1" fill="#7CAE00" fill-opacity="0.75"/>
<text x="644.70" y="107.70" font-size="10.4" text-anchor="start" fill="#1a1a1a" stroke="#1a1a1a" stroke-width="0.3" >8-9</text>
<rect x="619.80" y="113.00" width="18.2" height="18.20" stroke="#00BFC4" stroke-width="1.0" stroke-opacity="0.85" fill="none"/>
<rect x="621.70" y="117.91" width="14.40" height="8.74" fill="#00BFC4" fill-opacity="0.08" stroke="#00BFC4" stroke-width="0.9" stroke-opacity="0.85"/>
<line x1="628.90" y1="113.00" x2="628.90" y2="117.91" stroke="#00BFC4" stroke-width="1.0" stroke-opacity="0.85" fill="none"/>
<line x1="628.90" y1="126.65" x2="628.90" y2="131.20" stroke="#00BFC4" stroke-width="1.0" stroke-opacity="0.85" fill="none"/>
<line x1="621.70" y1="122.10" x2="636.10" y2="122.10" stroke="#00BFC4" stroke-width="1.0" stroke-opacity="0.85" fill="none"/>
<circle cx="628.90" cy="122.10" r="2.1" fill="#00BFC4" fill-opacity="0.75"/>
<text x="644.70" y="127.10" font-size="10.4" text-anchor="start" fill="#1a1a1a" stroke="#1a1a1a" stroke-width="0.3" >11-12</text>
<rect x="619.80" y="132.40" width="18.2" height="18.20" stroke="#C77CFF" stroke-width="1.0" stroke-opacity="0.85" fill="none"/>
<rect x="621.70" y="137.31" width="14.40" height="8.74" fill="#C77CFF" fill-opacity="0.08" stroke="#C77CFF" stroke-width="0.9" stroke-opacity="0.85"/>
<line x1="628.90" y1="132.40" x2="628.90" y2="137.31" stroke="#C77CFF" stroke-width="1.0" stroke-opacity="0.85" fill="none"/>
<line x1="628.90" y1="146.05" x2="628.90" y2="150.60" stroke="#C77CFF" stroke-width="1.0" stroke-opacity="0.85" fill="none"/>
<line x1="621.70" y1="141.50" x2="636.10" y2="141.50" stroke="#C77CFF" stroke-width="1.0" stroke-opacity="0.85" fill="none"/>
<circle cx="628.90" cy="141.50" r="2.1" fill="#C77CFF" fill-opacity="0.75"/>
<text x="644.70" y="146.50" font-size="10.4" text-anchor="start" fill="#1a1a1a" stroke="#1a1a1a" stroke-width="0.3" >21-30</text>
<rect x="397.4" y="228" width="203.0" height="159" fill="#fff"/>
<line x1="397.4" y1="362.41" x2="600.4" y2="362.41" stroke="#EEEEEE" stroke-width="0.9"/>
<line x1="397.4" y1="326.04" x2="600.4" y2="326.04" stroke="#EEEEEE" stroke-width="0.9"/>
<line x1="397.4" y1="289.66" x2="600.4" y2="289.66" stroke="#EEEEEE" stroke-width="0.9"/>
<line x1="397.4" y1="253.29" x2="600.4" y2="253.29" stroke="#EEEEEE" stroke-width="0.9"/>
<line x1="426.60" y1="228" x2="426.60" y2="387" stroke="#EBEBEB" stroke-width="1"/>
<line x1="474.70" y1="228" x2="474.70" y2="387" stroke="#EBEBEB" stroke-width="1"/>
<line x1="523.10" y1="228" x2="523.10" y2="387" stroke="#EBEBEB" stroke-width="1"/>
<line x1="571.50" y1="228" x2="571.50" y2="387" stroke="#EBEBEB" stroke-width="1"/>
<line x1="397.4" y1="380.60" x2="600.4" y2="380.60" stroke="#EBEBEB" stroke-width="1"/>
<line x1="397.4" y1="344.23" x2="600.4" y2="344.23" stroke="#EBEBEB" stroke-width="1"/>
<line x1="397.4" y1="307.85" x2="600.4" y2="307.85" stroke="#EBEBEB" stroke-width="1"/>
<line x1="397.4" y1="271.48" x2="600.4" y2="271.48" stroke="#EBEBEB" stroke-width="1"/>
<line x1="397.4" y1="235.10" x2="600.4" y2="235.10" stroke="#EBEBEB" stroke-width="1"/>
<path d="M426.60,274.00 C426.70,275.00 427.03,278.17 427.20,280.00 C427.37,281.83 427.42,283.33 427.60,285.00 C427.78,286.67 427.92,287.50 428.30,290.00 C428.68,292.50 429.19,296.67 429.90,300.00 C430.61,303.33 431.62,306.67 432.55,310.00 C433.48,313.33 434.88,317.50 435.50,320.00 C436.12,322.50 436.27,323.33 436.30,325.00 C436.33,326.67 436.17,327.50 435.70,330.00 C435.23,332.50 434.25,336.67 433.50,340.00 C432.75,343.33 432.03,346.67 431.20,350.00 C430.37,353.33 429.23,357.50 428.50,360.00 C427.77,362.50 427.12,363.33 426.80,365.00 C426.48,366.67 426.65,368.50 426.60,370.00 C426.55,371.50 426.58,373.33 426.50,374.00 C426.42,374.67 426.18,374.67 426.10,374.00 C426.02,373.33 426.05,371.50 426.00,370.00 C425.95,368.50 426.12,366.67 425.80,365.00 C425.48,363.33 424.83,362.50 424.10,360.00 C423.37,357.50 422.23,353.33 421.40,350.00 C420.57,346.67 419.85,343.33 419.10,340.00 C418.35,336.67 417.37,332.50 416.90,330.00 C416.43,327.50 416.27,326.67 416.30,325.00 C416.33,323.33 416.48,322.50 417.10,320.00 C417.73,317.50 419.12,313.33 420.05,310.00 C420.98,306.67 421.99,303.33 422.70,300.00 C423.41,296.67 423.92,292.50 424.30,290.00 C424.68,287.50 424.82,286.67 425.00,285.00 C425.18,283.33 425.23,281.83 425.40,280.00 C425.57,278.17 425.90,275.00 426.00,274.00Z" fill="none" stroke="#F8766D" stroke-width="0.9"/>
<line x1="426.3" y1="278" x2="426.3" y2="318.7" stroke="#F8766D" stroke-width="0.9"/>
<line x1="426.3" y1="339" x2="426.3" y2="365" stroke="#F8766D" stroke-width="0.9"/>
<rect x="421.5" y="318.7" width="9.6" height="20.30000000000001" fill="none" stroke="#F8766D" stroke-width="0.9"/>
<line x1="421.5" y1="324" x2="431.1" y2="324" stroke="#F8766D" stroke-width="1.8"/>
<circle cx="427.7" cy="305.5" r="1.9" fill="#F8766D" fill-opacity="0.45" stroke="#F8766D" stroke-opacity="0.9" stroke-width="0.6"/>
<circle cx="427.7" cy="308.8" r="1.9" fill="#F8766D" fill-opacity="0.45" stroke="#F8766D" stroke-opacity="0.9" stroke-width="0.6"/>
<circle cx="425.7" cy="295.7" r="1.9" fill="#F8766D" fill-opacity="0.45" stroke="#F8766D" stroke-opacity="0.9" stroke-width="0.6"/>
<circle cx="423.0" cy="322.0" r="1.9" fill="#F8766D" fill-opacity="0.45" stroke="#F8766D" stroke-opacity="0.9" stroke-width="0.6"/>
<circle cx="427.0" cy="322.0" r="1.9" fill="#F8766D" fill-opacity="0.45" stroke="#F8766D" stroke-opacity="0.9" stroke-width="0.6"/>
<circle cx="429.0" cy="323.3" r="1.9" fill="#F8766D" fill-opacity="0.45" stroke="#F8766D" stroke-opacity="0.9" stroke-width="0.6"/>
<circle cx="419.2" cy="332.5" r="1.9" fill="#F8766D" fill-opacity="0.45" stroke="#F8766D" stroke-opacity="0.9" stroke-width="0.6"/>
<circle cx="420.0" cy="330.5" r="1.9" fill="#F8766D" fill-opacity="0.45" stroke="#F8766D" stroke-opacity="0.9" stroke-width="0.6"/>
<circle cx="427.0" cy="336.4" r="1.9" fill="#F8766D" fill-opacity="0.45" stroke="#F8766D" stroke-opacity="0.9" stroke-width="0.6"/>
<circle cx="423.1" cy="345.0" r="1.9" fill="#F8766D" fill-opacity="0.45" stroke="#F8766D" stroke-opacity="0.9" stroke-width="0.6"/>
<circle cx="422.4" cy="347.6" r="1.9" fill="#F8766D" fill-opacity="0.45" stroke="#F8766D" stroke-opacity="0.9" stroke-width="0.6"/>
<circle cx="427.7" cy="342.4" r="1.9" fill="#F8766D" fill-opacity="0.45" stroke="#F8766D" stroke-opacity="0.9" stroke-width="0.6"/>
<circle cx="431.7" cy="354.2" r="1.9" fill="#F8766D" fill-opacity="0.45" stroke="#F8766D" stroke-opacity="0.9" stroke-width="0.6"/>
<circle cx="421.0" cy="318.5" r="1.9" fill="#F8766D" fill-opacity="0.45" stroke="#F8766D" stroke-opacity="0.9" stroke-width="0.6"/>
<circle cx="430.5" cy="319.5" r="1.9" fill="#F8766D" fill-opacity="0.45" stroke="#F8766D" stroke-opacity="0.9" stroke-width="0.6"/>
<circle cx="424.5" cy="327.0" r="1.9" fill="#F8766D" fill-opacity="0.45" stroke="#F8766D" stroke-opacity="0.9" stroke-width="0.6"/>
<circle cx="419.5" cy="326.0" r="1.9" fill="#F8766D" fill-opacity="0.45" stroke="#F8766D" stroke-opacity="0.9" stroke-width="0.6"/>
<circle cx="425.0" cy="340.0" r="1.9" fill="#F8766D" fill-opacity="0.45" stroke="#F8766D" stroke-opacity="0.9" stroke-width="0.6"/>
<circle cx="430.0" cy="330.0" r="1.9" fill="#F8766D" fill-opacity="0.45" stroke="#F8766D" stroke-opacity="0.9" stroke-width="0.6"/>
<path d="M475.10,292.10 C475.30,293.42 475.82,297.68 476.30,300.00 C476.78,302.32 477.95,304.00 478.00,306.00 C478.05,308.00 476.93,309.67 476.60,312.00 C476.27,314.33 475.57,317.83 476.00,320.00 C476.43,322.17 478.15,323.33 479.20,325.00 C480.25,326.67 481.17,328.17 482.30,330.00 C483.43,331.83 484.87,334.00 486.00,336.00 C487.13,338.00 488.97,339.67 489.10,342.00 C489.23,344.33 487.77,347.50 486.80,350.00 C485.83,352.50 484.72,354.67 483.30,357.00 C481.88,359.33 479.63,362.05 478.30,364.00 C476.97,365.95 475.85,367.13 475.30,368.70 C474.75,370.27 475.12,372.62 475.00,373.40 C474.88,374.18 474.72,374.18 474.60,373.40 C474.48,372.62 474.85,370.27 474.30,368.70 C473.75,367.13 472.63,365.95 471.30,364.00 C469.97,362.05 467.72,359.33 466.30,357.00 C464.88,354.67 463.77,352.50 462.80,350.00 C461.83,347.50 460.37,344.33 460.50,342.00 C460.63,339.67 462.47,338.00 463.60,336.00 C464.73,334.00 466.17,331.83 467.30,330.00 C468.43,328.17 469.35,326.67 470.40,325.00 C471.45,323.33 473.17,322.17 473.60,320.00 C474.03,317.83 473.33,314.33 473.00,312.00 C472.67,309.67 471.55,308.00 471.60,306.00 C471.65,304.00 472.82,302.32 473.30,300.00 C473.78,297.68 474.30,293.42 474.50,292.10Z" fill="none" stroke="#7CAE00" stroke-width="0.9"/>
<line x1="474.8" y1="320" x2="474.8" y2="338.4" stroke="#7CAE00" stroke-width="0.9"/>
<line x1="474.8" y1="351.1" x2="474.8" y2="358" stroke="#7CAE00" stroke-width="0.9"/>
<rect x="469.7" y="338.4" width="10.2" height="12.700000000000045" fill="none" stroke="#7CAE00" stroke-width="0.9"/>
<line x1="469.7" y1="341.7" x2="479.90000000000003" y2="341.7" stroke="#7CAE00" stroke-width="1.8"/>
<circle cx="474.0" cy="306.8" r="1.9" fill="#7CAE00" fill-opacity="0.45" stroke="#7CAE00" stroke-opacity="0.9" stroke-width="0.6"/>
<circle cx="474.5" cy="312.0" r="1.9" fill="#7CAE00" fill-opacity="0.45" stroke="#7CAE00" stroke-opacity="0.9" stroke-width="0.6"/>
<circle cx="473.4" cy="332.6" r="1.9" fill="#7CAE00" fill-opacity="0.45" stroke="#7CAE00" stroke-opacity="0.9" stroke-width="0.6"/>
<circle cx="481.0" cy="332.6" r="1.9" fill="#7CAE00" fill-opacity="0.45" stroke="#7CAE00" stroke-opacity="0.9" stroke-width="0.6"/>
<circle cx="468.0" cy="341.1" r="1.9" fill="#7CAE00" fill-opacity="0.45" stroke="#7CAE00" stroke-opacity="0.9" stroke-width="0.6"/>
<circle cx="471.5" cy="341.1" r="1.9" fill="#7CAE00" fill-opacity="0.45" stroke="#7CAE00" stroke-opacity="0.9" stroke-width="0.6"/>
<circle cx="478.6" cy="341.1" r="1.9" fill="#7CAE00" fill-opacity="0.45" stroke="#7CAE00" stroke-opacity="0.9" stroke-width="0.6"/>
<circle cx="478.6" cy="347.0" r="1.9" fill="#7CAE00" fill-opacity="0.45" stroke="#7CAE00" stroke-opacity="0.9" stroke-width="0.6"/>
<circle cx="471.6" cy="348.8" r="1.9" fill="#7CAE00" fill-opacity="0.45" stroke="#7CAE00" stroke-opacity="0.9" stroke-width="0.6"/>
<circle cx="471.0" cy="354.0" r="1.9" fill="#7CAE00" fill-opacity="0.45" stroke="#7CAE00" stroke-opacity="0.9" stroke-width="0.6"/>
<circle cx="468.7" cy="357.0" r="1.9" fill="#7CAE00" fill-opacity="0.45" stroke="#7CAE00" stroke-opacity="0.9" stroke-width="0.6"/>
<circle cx="473.4" cy="356.4" r="1.9" fill="#7CAE00" fill-opacity="0.45" stroke="#7CAE00" stroke-opacity="0.9" stroke-width="0.6"/>
<circle cx="468.0" cy="360.0" r="1.9" fill="#7CAE00" fill-opacity="0.45" stroke="#7CAE00" stroke-opacity="0.9" stroke-width="0.6"/>
<path d="M523.40,297.90 C523.55,299.25 523.97,303.65 524.30,306.00 C524.63,308.35 524.95,309.67 525.40,312.00 C525.85,314.33 526.45,317.00 527.00,320.00 C527.55,323.00 528.18,326.67 528.70,330.00 C529.22,333.33 529.62,337.50 530.10,340.00 C530.58,342.50 530.67,343.00 531.60,345.00 C532.53,347.00 535.45,349.83 535.70,352.00 C535.95,354.17 534.32,355.83 533.10,358.00 C531.88,360.17 529.73,362.67 528.40,365.00 C527.07,367.33 525.93,369.83 525.10,372.00 C524.27,374.17 523.78,377.00 523.40,378.00 C523.02,379.00 523.18,379.00 522.80,378.00 C522.42,377.00 521.93,374.17 521.10,372.00 C520.27,369.83 519.13,367.33 517.80,365.00 C516.47,362.67 514.32,360.17 513.10,358.00 C511.88,355.83 510.25,354.17 510.50,352.00 C510.75,349.83 513.67,347.00 514.60,345.00 C515.53,343.00 515.62,342.50 516.10,340.00 C516.58,337.50 516.98,333.33 517.50,330.00 C518.02,326.67 518.65,323.00 519.20,320.00 C519.75,317.00 520.35,314.33 520.80,312.00 C521.25,309.67 521.57,308.35 521.90,306.00 C522.23,303.65 522.65,299.25 522.80,297.90Z" fill="none" stroke="#00BFC4" stroke-width="0.9"/>
<line x1="523.1" y1="306" x2="523.1" y2="338.7" stroke="#00BFC4" stroke-width="0.9"/>
<line x1="523.1" y1="352.4" x2="523.1" y2="368" stroke="#00BFC4" stroke-width="0.9"/>
<rect x="517.9" y="338.7" width="10.4" height="13.699999999999989" fill="none" stroke="#00BFC4" stroke-width="0.9"/>
<line x1="517.9" y1="351.6" x2="528.3000000000001" y2="351.6" stroke="#00BFC4" stroke-width="1.8"/>
<circle cx="528.4" cy="316.0" r="1.9" fill="#00BFC4" fill-opacity="0.45" stroke="#00BFC4" stroke-opacity="0.9" stroke-width="0.6"/>
<circle cx="523.1" cy="324.3" r="1.9" fill="#00BFC4" fill-opacity="0.45" stroke="#00BFC4" stroke-opacity="0.9" stroke-width="0.6"/>
<circle cx="525.5" cy="329.5" r="1.9" fill="#00BFC4" fill-opacity="0.45" stroke="#00BFC4" stroke-opacity="0.9" stroke-width="0.6"/>
<circle cx="522.5" cy="336.0" r="1.9" fill="#00BFC4" fill-opacity="0.45" stroke="#00BFC4" stroke-opacity="0.9" stroke-width="0.6"/>
<circle cx="517.3" cy="338.3" r="1.9" fill="#00BFC4" fill-opacity="0.45" stroke="#00BFC4" stroke-opacity="0.9" stroke-width="0.6"/>
<circle cx="519.5" cy="337.5" r="1.9" fill="#00BFC4" fill-opacity="0.45" stroke="#00BFC4" stroke-opacity="0.9" stroke-width="0.6"/>
<circle cx="516.1" cy="351.6" r="1.9" fill="#00BFC4" fill-opacity="0.45" stroke="#00BFC4" stroke-opacity="0.9" stroke-width="0.6"/>
<circle cx="519.5" cy="351.6" r="1.9" fill="#00BFC4" fill-opacity="0.45" stroke="#00BFC4" stroke-opacity="0.9" stroke-width="0.6"/>
<circle cx="528.4" cy="351.6" r="1.9" fill="#00BFC4" fill-opacity="0.45" stroke="#00BFC4" stroke-opacity="0.9" stroke-width="0.6"/>
<circle cx="528.4" cy="359.2" r="1.9" fill="#00BFC4" fill-opacity="0.45" stroke="#00BFC4" stroke-opacity="0.9" stroke-width="0.6"/>
<circle cx="523.1" cy="361.6" r="1.9" fill="#00BFC4" fill-opacity="0.45" stroke="#00BFC4" stroke-opacity="0.9" stroke-width="0.6"/>
<circle cx="524.9" cy="367.4" r="1.9" fill="#00BFC4" fill-opacity="0.45" stroke="#00BFC4" stroke-opacity="0.9" stroke-width="0.6"/>
<path d="M571.60,300.70 C571.67,301.18 571.57,301.93 572.00,303.60 C572.43,305.27 574.20,308.25 574.20,310.70 C574.20,313.15 572.38,315.75 572.00,318.30 C571.62,320.85 571.88,323.45 571.90,326.00 C571.92,328.55 571.52,331.28 572.10,333.60 C572.68,335.92 574.65,337.88 575.40,339.90 C576.15,341.92 576.20,343.75 576.60,345.70 C577.00,347.65 577.12,350.13 577.80,351.60 C578.48,353.07 579.15,353.32 580.70,354.50 C582.25,355.68 585.05,357.12 587.10,358.70 C589.15,360.28 593.33,362.25 593.00,364.00 C592.67,365.75 587.68,367.55 585.10,369.20 C582.52,370.85 579.75,372.23 577.50,373.90 C575.25,375.57 572.68,378.32 571.60,379.20 C570.52,380.08 572.08,380.08 571.00,379.20 C569.92,378.32 567.35,375.57 565.10,373.90 C562.85,372.23 560.08,370.85 557.50,369.20 C554.92,367.55 549.93,365.75 549.60,364.00 C549.27,362.25 553.45,360.28 555.50,358.70 C557.55,357.12 560.35,355.68 561.90,354.50 C563.45,353.32 564.12,353.07 564.80,351.60 C565.48,350.13 565.60,347.65 566.00,345.70 C566.40,343.75 566.45,341.92 567.20,339.90 C567.95,337.88 569.92,335.92 570.50,333.60 C571.08,331.28 570.68,328.55 570.70,326.00 C570.72,323.45 570.98,320.85 570.60,318.30 C570.22,315.75 568.40,313.15 568.40,310.70 C568.40,308.25 570.17,305.27 570.60,303.60 C571.03,301.93 570.93,301.18 571.00,300.70Z" fill="none" stroke="#C77CFF" stroke-width="0.9"/>
<line x1="571.3" y1="343.4" x2="571.3" y2="356.3" stroke="#C77CFF" stroke-width="0.9"/>
<line x1="571.3" y1="365" x2="571.3" y2="372" stroke="#C77CFF" stroke-width="0.9"/>
<rect x="566.5" y="356.3" width="9.6" height="8.699999999999989" fill="none" stroke="#C77CFF" stroke-width="0.9"/>
<line x1="566.5" y1="364" x2="576.0999999999999" y2="364" stroke="#C77CFF" stroke-width="1.8"/>
<circle cx="575.1" cy="311.0" r="1.9" fill="#C77CFF" fill-opacity="0.45" stroke="#C77CFF" stroke-opacity="0.9" stroke-width="0.6"/>
<circle cx="575.6" cy="340.5" r="1.9" fill="#C77CFF" fill-opacity="0.45" stroke="#C77CFF" stroke-opacity="0.9" stroke-width="0.6"/>
<circle cx="578.0" cy="344.0" r="1.9" fill="#C77CFF" fill-opacity="0.45" stroke="#C77CFF" stroke-opacity="0.9" stroke-width="0.6"/>
<circle cx="572.1" cy="348.0" r="1.9" fill="#C77CFF" fill-opacity="0.45" stroke="#C77CFF" stroke-opacity="0.9" stroke-width="0.6"/>
<circle cx="572.7" cy="352.8" r="1.9" fill="#C77CFF" fill-opacity="0.45" stroke="#C77CFF" stroke-opacity="0.9" stroke-width="0.6"/>
<circle cx="563.3" cy="355.7" r="1.9" fill="#C77CFF" fill-opacity="0.45" stroke="#C77CFF" stroke-opacity="0.9" stroke-width="0.6"/>
<circle cx="572.1" cy="357.5" r="1.9" fill="#C77CFF" fill-opacity="0.45" stroke="#C77CFF" stroke-opacity="0.9" stroke-width="0.6"/>
<circle cx="565.7" cy="363.4" r="1.9" fill="#C77CFF" fill-opacity="0.45" stroke="#C77CFF" stroke-opacity="0.9" stroke-width="0.6"/>
<circle cx="569.5" cy="363.4" r="1.9" fill="#C77CFF" fill-opacity="0.45" stroke="#C77CFF" stroke-opacity="0.9" stroke-width="0.6"/>
<circle cx="573.5" cy="364.0" r="1.9" fill="#C77CFF" fill-opacity="0.45" stroke="#C77CFF" stroke-opacity="0.9" stroke-width="0.6"/>
<circle cx="578.0" cy="362.2" r="1.9" fill="#C77CFF" fill-opacity="0.45" stroke="#C77CFF" stroke-opacity="0.9" stroke-width="0.6"/>
<circle cx="572.7" cy="366.9" r="1.9" fill="#C77CFF" fill-opacity="0.45" stroke="#C77CFF" stroke-opacity="0.9" stroke-width="0.6"/>
<circle cx="565.1" cy="371.0" r="1.9" fill="#C77CFF" fill-opacity="0.45" stroke="#C77CFF" stroke-opacity="0.9" stroke-width="0.6"/>
<circle cx="569.2" cy="370.4" r="1.9" fill="#C77CFF" fill-opacity="0.45" stroke="#C77CFF" stroke-opacity="0.9" stroke-width="0.6"/>
<circle cx="572.1" cy="369.2" r="1.9" fill="#C77CFF" fill-opacity="0.45" stroke="#C77CFF" stroke-opacity="0.9" stroke-width="0.6"/>
<line x1="426.6" y1="241.3" x2="571.1" y2="241.3" stroke="#2a2a2a" stroke-width="1.2"/>
<circle cx="494.4" cy="234.0" r="1.5" fill="#2a2a2a"/>
<circle cx="499.7" cy="234.0" r="1.5" fill="#2a2a2a"/>
<circle cx="505.0" cy="234.0" r="1.5" fill="#2a2a2a"/>
<line x1="426.6" y1="253.8" x2="523.9" y2="253.8" stroke="#2a2a2a" stroke-width="1.2"/>
<circle cx="474.6" cy="247.8" r="1.5" fill="#2a2a2a"/>
<circle cx="479.8" cy="247.8" r="1.5" fill="#2a2a2a"/>
<line x1="426.6" y1="267.7" x2="473.1" y2="267.7" stroke="#2a2a2a" stroke-width="1.2"/>
<circle cx="450.8" cy="260.6" r="1.5" fill="#2a2a2a"/>
<line x1="474.6" y1="285.3" x2="571.1" y2="285.3" stroke="#2a2a2a" stroke-width="1.2"/>
<circle cx="523.8" cy="278.4" r="1.5" fill="#2a2a2a"/>
<rect x="397.4" y="228" width="203.0" height="159" fill="none" stroke="#444444" stroke-width="1.15"/>
<line x1="426.60" y1="387" x2="426.60" y2="390" stroke="#444444" stroke-width="1.1"/>
<line x1="474.70" y1="387" x2="474.70" y2="390" stroke="#444444" stroke-width="1.1"/>
<line x1="523.10" y1="387" x2="523.10" y2="390" stroke="#444444" stroke-width="1.1"/>
<line x1="571.50" y1="387" x2="571.50" y2="390" stroke="#444444" stroke-width="1.1"/>
<line x1="394.4" y1="380.60" x2="397.4" y2="380.60" stroke="#444444" stroke-width="1.1"/>
<line x1="394.4" y1="344.23" x2="397.4" y2="344.23" stroke="#444444" stroke-width="1.1"/>
<line x1="394.4" y1="307.85" x2="397.4" y2="307.85" stroke="#444444" stroke-width="1.1"/>
<line x1="394.4" y1="271.48" x2="397.4" y2="271.48" stroke="#444444" stroke-width="1.1"/>
<line x1="394.4" y1="235.10" x2="397.4" y2="235.10" stroke="#444444" stroke-width="1.1"/>
<text x="391.00" y="385.20" font-size="10" text-anchor="end" fill="#4D4D4D" stroke="#4D4D4D" stroke-width="0.12" >0</text>
<text x="391.00" y="348.83" font-size="10" text-anchor="end" fill="#4D4D4D" stroke="#4D4D4D" stroke-width="0.12" >25</text>
<text x="391.00" y="312.45" font-size="10" text-anchor="end" fill="#4D4D4D" stroke="#4D4D4D" stroke-width="0.12" >50</text>
<text x="391.00" y="276.08" font-size="10" text-anchor="end" fill="#4D4D4D" stroke="#4D4D4D" stroke-width="0.12" >75</text>
<text x="391.00" y="239.70" font-size="10" text-anchor="end" fill="#4D4D4D" stroke="#4D4D4D" stroke-width="0.12" >100</text>
<text x="426.60" y="402.00" font-size="10" text-anchor="middle" fill="#4D4D4D" stroke="#4D4D4D" stroke-width="0.12" >5-6</text>
<text x="474.70" y="402.00" font-size="10" text-anchor="middle" fill="#4D4D4D" stroke="#4D4D4D" stroke-width="0.12" >8-9</text>
<text x="523.10" y="402.00" font-size="10" text-anchor="middle" fill="#4D4D4D" stroke="#4D4D4D" stroke-width="0.12" >11-12</text>
<text x="571.50" y="402.00" font-size="10" text-anchor="middle" fill="#4D4D4D" stroke="#4D4D4D" stroke-width="0.12" >21-30</text>
<text x="498.90" y="417.70" font-size="12.4" text-anchor="middle" fill="#000" stroke="#000" stroke-width="0.15" >Age Group</text>
<text transform="translate(368.8,307.5) rotate(-90)" font-size="12.4" text-anchor="middle" fill="#000" stroke="#000" stroke-width="0.15">Coefficient of Variation (%)</text>
<text x="619.20" y="270.50" font-size="12" text-anchor="start" fill="#000" stroke="#000" stroke-width="0.3" >Group</text>
<rect x="619.80" y="278.30" width="18.2" height="18.30" stroke="#F8766D" stroke-width="1.0" stroke-opacity="0.85" fill="none"/>
<rect x="621.70" y="283.24" width="14.40" height="8.78" fill="#F8766D" fill-opacity="0.08" stroke="#F8766D" stroke-width="0.9" stroke-opacity="0.85"/>
<line x1="628.90" y1="278.30" x2="628.90" y2="283.24" stroke="#F8766D" stroke-width="1.0" stroke-opacity="0.85" fill="none"/>
<line x1="628.90" y1="292.02" x2="628.90" y2="296.60" stroke="#F8766D" stroke-width="1.0" stroke-opacity="0.85" fill="none"/>
<line x1="621.70" y1="287.45" x2="636.10" y2="287.45" stroke="#F8766D" stroke-width="1.0" stroke-opacity="0.85" fill="none"/>
<circle cx="628.90" cy="287.45" r="2.1" fill="#F8766D" fill-opacity="0.75"/>
<text x="644.70" y="292.45" font-size="10.4" text-anchor="start" fill="#1a1a1a" stroke="#1a1a1a" stroke-width="0.3" >5-6</text>
<rect x="619.80" y="297.80" width="18.2" height="18.30" stroke="#7CAE00" stroke-width="1.0" stroke-opacity="0.85" fill="none"/>
<rect x="621.70" y="302.74" width="14.40" height="8.78" fill="#7CAE00" fill-opacity="0.08" stroke="#7CAE00" stroke-width="0.9" stroke-opacity="0.85"/>
<line x1="628.90" y1="297.80" x2="628.90" y2="302.74" stroke="#7CAE00" stroke-width="1.0" stroke-opacity="0.85" fill="none"/>
<line x1="628.90" y1="311.52" x2="628.90" y2="316.10" stroke="#7CAE00" stroke-width="1.0" stroke-opacity="0.85" fill="none"/>
<line x1="621.70" y1="306.95" x2="636.10" y2="306.95" stroke="#7CAE00" stroke-width="1.0" stroke-opacity="0.85" fill="none"/>
<circle cx="628.90" cy="306.95" r="2.1" fill="#7CAE00" fill-opacity="0.75"/>
<text x="644.70" y="311.95" font-size="10.4" text-anchor="start" fill="#1a1a1a" stroke="#1a1a1a" stroke-width="0.3" >8-9</text>
<rect x="619.80" y="317.30" width="18.2" height="18.30" stroke="#00BFC4" stroke-width="1.0" stroke-opacity="0.85" fill="none"/>
<rect x="621.70" y="322.24" width="14.40" height="8.78" fill="#00BFC4" fill-opacity="0.08" stroke="#00BFC4" stroke-width="0.9" stroke-opacity="0.85"/>
<line x1="628.90" y1="317.30" x2="628.90" y2="322.24" stroke="#00BFC4" stroke-width="1.0" stroke-opacity="0.85" fill="none"/>
<line x1="628.90" y1="331.02" x2="628.90" y2="335.60" stroke="#00BFC4" stroke-width="1.0" stroke-opacity="0.85" fill="none"/>
<line x1="621.70" y1="326.45" x2="636.10" y2="326.45" stroke="#00BFC4" stroke-width="1.0" stroke-opacity="0.85" fill="none"/>
<circle cx="628.90" cy="326.45" r="2.1" fill="#00BFC4" fill-opacity="0.75"/>
<text x="644.70" y="331.45" font-size="10.4" text-anchor="start" fill="#1a1a1a" stroke="#1a1a1a" stroke-width="0.3" >11-12</text>
<rect x="619.80" y="336.80" width="18.2" height="18.30" stroke="#C77CFF" stroke-width="1.0" stroke-opacity="0.85" fill="none"/>
<rect x="621.70" y="341.74" width="14.40" height="8.78" fill="#C77CFF" fill-opacity="0.08" stroke="#C77CFF" stroke-width="0.9" stroke-opacity="0.85"/>
<line x1="628.90" y1="336.80" x2="628.90" y2="341.74" stroke="#C77CFF" stroke-width="1.0" stroke-opacity="0.85" fill="none"/>
<line x1="628.90" y1="350.52" x2="628.90" y2="355.10" stroke="#C77CFF" stroke-width="1.0" stroke-opacity="0.85" fill="none"/>
<line x1="621.70" y1="345.95" x2="636.10" y2="345.95" stroke="#C77CFF" stroke-width="1.0" stroke-opacity="0.85" fill="none"/>
<circle cx="628.90" cy="345.95" r="2.1" fill="#C77CFF" fill-opacity="0.75"/>
<text x="644.70" y="350.95" font-size="10.4" text-anchor="start" fill="#1a1a1a" stroke="#1a1a1a" stroke-width="0.3" >21-30</text>
</svg></body></html>
